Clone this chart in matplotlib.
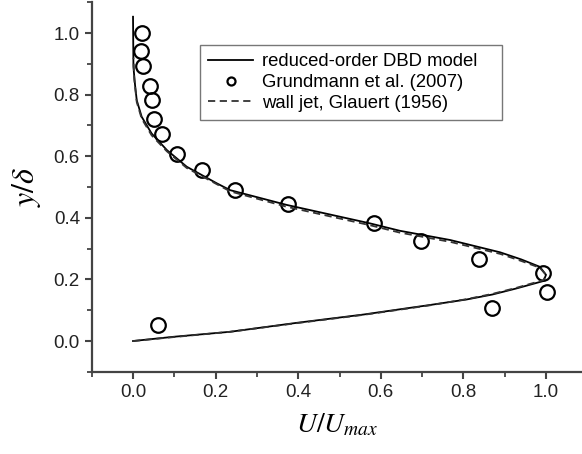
import matplotlib
matplotlib.use("Agg")
from matplotlib import pyplot as plt
from matplotlib.ticker import MultipleLocator

# reduced-order DBD model (solid)
model_u = [0.0, 0.1, 0.235, 0.396, 0.558, 0.646, 0.719, 0.808, 0.87, 0.929,
           0.994, 1.0, 0.985, 0.94, 0.889, 0.768, 0.646, 0.574, 0.372, 0.235,
           0.203, 0.13, 0.082, 0.045, 0.021, 0.009, 0.005, 0.001, 0.0]
model_y = [0.0, 0.014, 0.03, 0.059, 0.086, 0.103, 0.117, 0.135, 0.151, 0.171,
           0.195, 0.215, 0.241, 0.265, 0.288, 0.328, 0.358, 0.382, 0.442, 0.49,
           0.512, 0.566, 0.62, 0.674, 0.728, 0.782, 0.83, 0.89, 1.053]

# wall jet, Glauert (1956) (dashed)
glauert_u = [0.0, 0.1, 0.235, 0.396, 0.558, 0.719, 0.808, 0.87, 0.929, 0.994,
             1.0, 0.985, 0.94, 0.889, 0.768, 0.646, 0.574, 0.372, 0.235, 0.13,
             0.082, 0.045, 0.021, 0.009, 0.003, 0.001]
glauert_y = [0.0, 0.013, 0.03, 0.058, 0.085, 0.116, 0.136, 0.153, 0.173, 0.198,
             0.215, 0.238, 0.26, 0.283, 0.322, 0.352, 0.376, 0.436, 0.486,
             0.562, 0.616, 0.668, 0.722, 0.776, 0.85, 0.92]

# Grundmann et al. (2007) measurements
exp_u = [0.021, 0.019, 0.023, 0.04, 0.045, 0.05, 0.071, 0.106, 0.166, 0.247,
         0.376, 0.583, 0.697, 0.837, 0.992, 1.003, 0.869, 0.06]
exp_y = [1.0, 0.943, 0.894, 0.829, 0.782, 0.72, 0.671, 0.607, 0.555, 0.492,
         0.445, 0.382, 0.326, 0.265, 0.222, 0.16, 0.106, 0.052]

plt.rcParams["font.family"] = ["Liberation Sans", "DejaVu Sans"]
plt.rcParams["mathtext.fontset"] = "stix"

fig = plt.figure(figsize=(5.82, 4.54), dpi=100)
ax = fig.add_axes([0.1576, 0.181, 0.8423, 0.814])

ax.plot(model_u, model_y, color="black", lw=1.3, label="reduced-order DBD model")
ax.plot(exp_u, exp_y, ls="none", marker="o", ms=10.5, mfc="none", mec="black",
        mew=1.6, label="Grundmann et al. (2007)")
ax.plot(glauert_u, glauert_y, color="#333333", lw=1.3, ls=(0, (4, 2.5)),
        label="wall jet, Glauert (1956)")

ax.set_xlim(-0.1, 1.087)
ax.set_ylim(-0.1, 1.1)
ax.xaxis.set_minor_locator(MultipleLocator(0.1))
ax.yaxis.set_minor_locator(MultipleLocator(0.1))
ax.set_xticks([0.0, 0.2, 0.4, 0.6, 0.8, 1.0])
ax.set_yticks([0.0, 0.2, 0.4, 0.6, 0.8, 1.0])

for side in ["top", "right"]:
    ax.spines[side].set_visible(False)
for side in ["left", "bottom"]:
    ax.spines[side].set_color("#444444")
    ax.spines[side].set_linewidth(1.6)

ax.tick_params(which="major", direction="out", length=5, width=1.5,
               color="#444444", labelsize=13.5, labelcolor="#222222")
ax.tick_params(which="minor", direction="out", length=3.5, width=1.3,
               color="#444444")

ax.set_xlabel(r"$U/U_{max}$", fontsize=20, labelpad=8)
ax.set_ylabel(r"$y/\delta$", fontsize=23, labelpad=8)

leg = ax.legend(loc="upper left", bbox_to_anchor=(0.221, 0.884, 0.616, 0.0),
                mode="expand", borderaxespad=0, fontsize=13.3, frameon=True,
                fancybox=False, handlelength=2.4, handletextpad=0.5,
                markerscale=0.55, borderpad=0.45, labelspacing=0.2)
leg.get_frame().set_edgecolor("#555555")
leg.get_frame().set_linewidth(1.0)

fig.savefig("out.png", dpi=100)
